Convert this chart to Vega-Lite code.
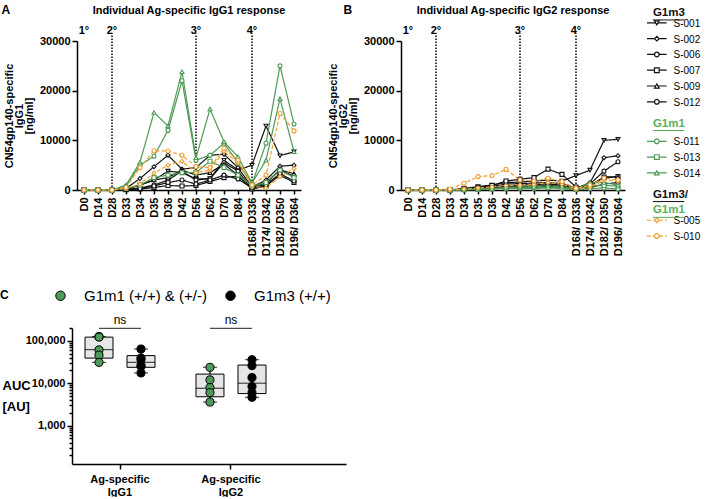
{
"$schema": "https://vega.github.io/schema/vega-lite/v6.json",
"padding": {"left": 0, "top": 4, "right": 0, "bottom": 0},
"config": {
  "font": "Liberation Sans",
  "view": {"stroke": null},
  "axis": {"domainColor": "#000", "domainWidth": 1.5, "tickColor": "#000", "tickWidth": 1.5, "labelColor": "#000", "titleColor": "#000", "labelFontWeight": "bold", "titleFontWeight": "bold", "grid": false, "labelFont": "Liberation Sans", "titleFont": "Liberation Sans"},
  "title": {"fontSize": 11, "fontWeight": "bold", "color": "#000", "font": "Liberation Sans"}
},
"datasets": {
  "series": [
{"s":"S-001","d":"D0","g1":0,"g2":0},{"s":"S-001","d":"D14","g1":0,"g2":0},{"s":"S-001","d":"D28","g1":0,"g2":0},{"s":"S-001","d":"D33","g1":200,"g2":0},{"s":"S-001","d":"D34","g1":1000,"g2":300},{"s":"S-001","d":"D35","g1":2000,"g2":700},{"s":"S-001","d":"D36","g1":3800,"g2":1000},{"s":"S-001","d":"D42","g1":3500,"g2":1500},{"s":"S-001","d":"D56","g1":2200,"g2":1600},{"s":"S-001","d":"D62","g1":2300,"g2":1800},{"s":"S-001","d":"D70","g1":6000,"g2":2000},{"s":"S-001","d":"D84","g1":4000,"g2":1800},{"s":"S-001","d":"D168/ D336","g1":5000,"g2":2900},{"s":"S-001","d":"D174/ D342","g1":12900,"g2":4000},{"s":"S-001","d":"D182/ D350","g1":6900,"g2":10000},{"s":"S-001","d":"D196/ D364","g1":7700,"g2":10200},
{"s":"S-002","d":"D0","g1":0,"g2":0},{"s":"S-002","d":"D14","g1":0,"g2":0},{"s":"S-002","d":"D28","g1":0,"g2":0},{"s":"S-002","d":"D33","g1":300,"g2":0},{"s":"S-002","d":"D34","g1":2300,"g2":200},{"s":"S-002","d":"D35","g1":4700,"g2":400},{"s":"S-002","d":"D36","g1":7000,"g2":700},{"s":"S-002","d":"D42","g1":4200,"g2":1200},{"s":"S-002","d":"D56","g1":4500,"g2":1300},{"s":"S-002","d":"D62","g1":7000,"g2":1400},{"s":"S-002","d":"D70","g1":7200,"g2":1500},{"s":"S-002","d":"D84","g1":4500,"g2":1300},{"s":"S-002","d":"D168/ D336","g1":600,"g2":300},{"s":"S-002","d":"D174/ D342","g1":2000,"g2":1500},{"s":"S-002","d":"D182/ D350","g1":4800,"g2":6500},{"s":"S-002","d":"D196/ D364","g1":5000,"g2":6900},
{"s":"S-006","d":"D0","g1":0,"g2":0},{"s":"S-006","d":"D14","g1":0,"g2":0},{"s":"S-006","d":"D28","g1":0,"g2":0},{"s":"S-006","d":"D33","g1":100,"g2":0},{"s":"S-006","d":"D34","g1":400,"g2":100},{"s":"S-006","d":"D35","g1":1000,"g2":300},{"s":"S-006","d":"D36","g1":2000,"g2":500},{"s":"S-006","d":"D42","g1":3800,"g2":800},{"s":"S-006","d":"D56","g1":2000,"g2":1000},{"s":"S-006","d":"D62","g1":2300,"g2":1100},{"s":"S-006","d":"D70","g1":5500,"g2":1200},{"s":"S-006","d":"D84","g1":3800,"g2":1000},{"s":"S-006","d":"D168/ D336","g1":300,"g2":200},{"s":"S-006","d":"D174/ D342","g1":1200,"g2":1200},{"s":"S-006","d":"D182/ D350","g1":4200,"g2":3800},{"s":"S-006","d":"D196/ D364","g1":2700,"g2":5700},
{"s":"S-007","d":"D0","g1":0,"g2":0},{"s":"S-007","d":"D14","g1":0,"g2":0},{"s":"S-007","d":"D28","g1":0,"g2":0},{"s":"S-007","d":"D33","g1":50,"g2":0},{"s":"S-007","d":"D34","g1":200,"g2":200},{"s":"S-007","d":"D35","g1":500,"g2":500},{"s":"S-007","d":"D36","g1":900,"g2":900},{"s":"S-007","d":"D42","g1":800,"g2":1800},{"s":"S-007","d":"D56","g1":900,"g2":2150},{"s":"S-007","d":"D62","g1":1700,"g2":2500},{"s":"S-007","d":"D70","g1":2500,"g2":4200},{"s":"S-007","d":"D84","g1":2800,"g2":3150},{"s":"S-007","d":"D168/ D336","g1":200,"g2":600},{"s":"S-007","d":"D174/ D342","g1":800,"g2":900},{"s":"S-007","d":"D182/ D350","g1":3000,"g2":2600},{"s":"S-007","d":"D196/ D364","g1":1500,"g2":2700},
{"s":"S-009","d":"D0","g1":0,"g2":0},{"s":"S-009","d":"D14","g1":0,"g2":0},{"s":"S-009","d":"D28","g1":0,"g2":0},{"s":"S-009","d":"D33","g1":100,"g2":0},{"s":"S-009","d":"D34","g1":1000,"g2":100},{"s":"S-009","d":"D35","g1":2000,"g2":200},{"s":"S-009","d":"D36","g1":2500,"g2":400},{"s":"S-009","d":"D42","g1":4000,"g2":600},{"s":"S-009","d":"D56","g1":3000,"g2":700},{"s":"S-009","d":"D62","g1":3500,"g2":800},{"s":"S-009","d":"D70","g1":5200,"g2":900},{"s":"S-009","d":"D84","g1":3000,"g2":800},{"s":"S-009","d":"D168/ D336","g1":500,"g2":150},{"s":"S-009","d":"D174/ D342","g1":1500,"g2":800},{"s":"S-009","d":"D182/ D350","g1":4000,"g2":2500},{"s":"S-009","d":"D196/ D364","g1":3300,"g2":2600},
{"s":"S-012","d":"D0","g1":0,"g2":0},{"s":"S-012","d":"D14","g1":0,"g2":0},{"s":"S-012","d":"D28","g1":0,"g2":0},{"s":"S-012","d":"D33","g1":100,"g2":0},{"s":"S-012","d":"D34","g1":300,"g2":50},{"s":"S-012","d":"D35","g1":800,"g2":150},{"s":"S-012","d":"D36","g1":1500,"g2":300},{"s":"S-012","d":"D42","g1":2000,"g2":400},{"s":"S-012","d":"D56","g1":1200,"g2":500},{"s":"S-012","d":"D62","g1":2000,"g2":600},{"s":"S-012","d":"D70","g1":3000,"g2":700},{"s":"S-012","d":"D84","g1":2200,"g2":600},{"s":"S-012","d":"D168/ D336","g1":400,"g2":100},{"s":"S-012","d":"D174/ D342","g1":1000,"g2":500},{"s":"S-012","d":"D182/ D350","g1":3300,"g2":1200},{"s":"S-012","d":"D196/ D364","g1":1800,"g2":1500},
{"s":"S-011","d":"D0","g1":0,"g2":0},{"s":"S-011","d":"D14","g1":0,"g2":0},{"s":"S-011","d":"D28","g1":0,"g2":0},{"s":"S-011","d":"D33","g1":800,"g2":0},{"s":"S-011","d":"D34","g1":5000,"g2":50},{"s":"S-011","d":"D35","g1":6800,"g2":100},{"s":"S-011","d":"D36","g1":12000,"g2":200},{"s":"S-011","d":"D42","g1":22000,"g2":300},{"s":"S-011","d":"D56","g1":6000,"g2":300},{"s":"S-011","d":"D62","g1":7000,"g2":300},{"s":"S-011","d":"D70","g1":9400,"g2":400},{"s":"S-011","d":"D84","g1":5500,"g2":300},{"s":"S-011","d":"D168/ D336","g1":1200,"g2":50},{"s":"S-011","d":"D174/ D342","g1":9400,"g2":300},{"s":"S-011","d":"D182/ D350","g1":25000,"g2":400},{"s":"S-011","d":"D196/ D364","g1":13300,"g2":200},
{"s":"S-013","d":"D0","g1":0,"g2":0},{"s":"S-013","d":"D14","g1":0,"g2":0},{"s":"S-013","d":"D28","g1":0,"g2":0},{"s":"S-013","d":"D33","g1":300,"g2":0},{"s":"S-013","d":"D34","g1":1000,"g2":50},{"s":"S-013","d":"D35","g1":2500,"g2":150},{"s":"S-013","d":"D36","g1":3000,"g2":250},{"s":"S-013","d":"D42","g1":3500,"g2":400},{"s":"S-013","d":"D56","g1":3500,"g2":500},{"s":"S-013","d":"D62","g1":5800,"g2":500},{"s":"S-013","d":"D70","g1":4500,"g2":500},{"s":"S-013","d":"D84","g1":3000,"g2":400},{"s":"S-013","d":"D168/ D336","g1":800,"g2":100},{"s":"S-013","d":"D174/ D342","g1":1500,"g2":800},{"s":"S-013","d":"D182/ D350","g1":4000,"g2":900},{"s":"S-013","d":"D196/ D364","g1":2500,"g2":800},
{"s":"S-014","d":"D0","g1":0,"g2":0},{"s":"S-014","d":"D14","g1":0,"g2":0},{"s":"S-014","d":"D28","g1":0,"g2":0},{"s":"S-014","d":"D33","g1":1000,"g2":0},{"s":"S-014","d":"D34","g1":5600,"g2":100},{"s":"S-014","d":"D35","g1":15600,"g2":200},{"s":"S-014","d":"D36","g1":12900,"g2":300},{"s":"S-014","d":"D42","g1":23800,"g2":500},{"s":"S-014","d":"D56","g1":6500,"g2":600},{"s":"S-014","d":"D62","g1":16300,"g2":700},{"s":"S-014","d":"D70","g1":9700,"g2":800},{"s":"S-014","d":"D84","g1":6700,"g2":700},{"s":"S-014","d":"D168/ D336","g1":1400,"g2":150},{"s":"S-014","d":"D174/ D342","g1":6000,"g2":1500},{"s":"S-014","d":"D182/ D350","g1":18400,"g2":1500},{"s":"S-014","d":"D196/ D364","g1":7700,"g2":1000},
{"s":"S-005","d":"D0","g1":0,"g2":0},{"s":"S-005","d":"D14","g1":0,"g2":0},{"s":"S-005","d":"D28","g1":0,"g2":0},{"s":"S-005","d":"D33","g1":300,"g2":0},{"s":"S-005","d":"D34","g1":1200,"g2":200},{"s":"S-005","d":"D35","g1":3400,"g2":400},{"s":"S-005","d":"D36","g1":5000,"g2":600},{"s":"S-005","d":"D42","g1":5800,"g2":900},{"s":"S-005","d":"D56","g1":3500,"g2":1000},{"s":"S-005","d":"D62","g1":4000,"g2":1100},{"s":"S-005","d":"D70","g1":7700,"g2":1500},{"s":"S-005","d":"D84","g1":5500,"g2":1200},{"s":"S-005","d":"D168/ D336","g1":800,"g2":200},{"s":"S-005","d":"D174/ D342","g1":400,"g2":600},{"s":"S-005","d":"D182/ D350","g1":2700,"g2":2000},{"s":"S-005","d":"D196/ D364","g1":4300,"g2":1800},
{"s":"S-010","d":"D0","g1":0,"g2":0},{"s":"S-010","d":"D14","g1":0,"g2":0},{"s":"S-010","d":"D28","g1":0,"g2":0},{"s":"S-010","d":"D33","g1":500,"g2":200},{"s":"S-010","d":"D34","g1":4500,"g2":1350},{"s":"S-010","d":"D35","g1":7900,"g2":2700},{"s":"S-010","d":"D36","g1":7850,"g2":2900},{"s":"S-010","d":"D42","g1":7000,"g2":4150},{"s":"S-010","d":"D56","g1":4700,"g2":2000},{"s":"S-010","d":"D62","g1":4500,"g2":1800},{"s":"S-010","d":"D70","g1":8400,"g2":2350},{"s":"S-010","d":"D84","g1":6000,"g2":1700},{"s":"S-010","d":"D168/ D336","g1":1000,"g2":330},{"s":"S-010","d":"D174/ D342","g1":3000,"g2":1000},{"s":"S-010","d":"D182/ D350","g1":15400,"g2":2400},{"s":"S-010","d":"D196/ D364","g1":11900,"g2":2000}
  ],
  "boosts": [{"d":"D0","lab":"1°"},{"d":"D28","lab":"2°"},{"d":"D56","lab":"3°"},{"d":"D168/ D336","lab":"4°"}],
  "legend": [
    {"k":"h1","lab":"G1m3","t":"head"},
    {"k":"S-001","lab":"S-001","t":"item"},{"k":"S-002","lab":"S-002","t":"item"},{"k":"S-006","lab":"S-006","t":"item"},{"k":"S-007","lab":"S-007","t":"item"},{"k":"S-009","lab":"S-009","t":"item"},{"k":"S-012","lab":"S-012","t":"item"},
    {"k":"h2","lab":"G1m1","t":"head"},
    {"k":"S-011","lab":"S-011","t":"item"},{"k":"S-013","lab":"S-013","t":"item"},{"k":"S-014","lab":"S-014","t":"item"},
    {"k":"h3","lab":"G1m3/","t":"head"},{"k":"h4","lab":"G1m1","t":"head"},
    {"k":"S-005","lab":"S-005","t":"item"},{"k":"S-010","lab":"S-010","t":"item"}
  ],
  "auc": [
    {"ab":"IgG1","g":"G1m1 (+/+) & (+/-)","v":126000},{"ab":"IgG1","g":"G1m1 (+/+) & (+/-)","v":122000},{"ab":"IgG1","g":"G1m1 (+/+) & (+/-)","v":61000},{"ab":"IgG1","g":"G1m1 (+/+) & (+/-)","v":46000},{"ab":"IgG1","g":"G1m1 (+/+) & (+/-)","v":31000},
    {"ab":"IgG1","g":"G1m3 (+/+)","v":64000},{"ab":"IgG1","g":"G1m3 (+/+)","v":39000},{"ab":"IgG1","g":"G1m3 (+/+)","v":36000},{"ab":"IgG1","g":"G1m3 (+/+)","v":26000},{"ab":"IgG1","g":"G1m3 (+/+)","v":25000},{"ab":"IgG1","g":"G1m3 (+/+)","v":17500},
    {"ab":"IgG2","g":"G1m1 (+/+) & (+/-)","v":23700},{"ab":"IgG2","g":"G1m1 (+/+) & (+/-)","v":12000},{"ab":"IgG2","g":"G1m1 (+/+) & (+/-)","v":7900},{"ab":"IgG2","g":"G1m1 (+/+) & (+/-)","v":6000},{"ab":"IgG2","g":"G1m1 (+/+) & (+/-)","v":3600},
    {"ab":"IgG2","g":"G1m3 (+/+)","v":35900},{"ab":"IgG2","g":"G1m3 (+/+)","v":26000},{"ab":"IgG2","g":"G1m3 (+/+)","v":13600},{"ab":"IgG2","g":"G1m3 (+/+)","v":8350},{"ab":"IgG2","g":"G1m3 (+/+)","v":6000},{"ab":"IgG2","g":"G1m3 (+/+)","v":4650}
  ],
  "box": [
    {"ab":"IgG1","g":"G1m1 (+/+) & (+/-)","lo":31000,"q1":39000,"med":62000,"q3":122000,"hi":126000},
    {"ab":"IgG1","g":"G1m3 (+/+)","lo":17500,"q1":23700,"med":31000,"q3":44700,"hi":64000},
    {"ab":"IgG2","g":"G1m1 (+/+) & (+/-)","lo":3600,"q1":4800,"med":7600,"q3":16400,"hi":23700},
    {"ab":"IgG2","g":"G1m3 (+/+)","lo":4650,"q1":5700,"med":10000,"q3":26800,"hi":35900}
  ],
  "sig": [{"ab":"IgG1","p":"ns"},{"ab":"IgG2","p":"ns"}]
},
"spacing": 32,
"resolve": {"legend": {"fill": "independent"}, "scale": {"fill": "independent"}},
"vconcat": [
{
  "spacing": 21,
  "hconcat": [
  {
  "spacing": 26,
  "hconcat": [
  {
    "title": {"text": "A", "anchor": "start", "frame": "bounds", "fontSize": 12, "dx": -2, "dy": 16},
    "vconcat": [{
      "width": 224, "height": 149,
      "title": {"text": "Individual Ag-specific IgG1 response", "anchor": "middle", "frame": "group", "offset": 9},
      "layer": [
        {"data": {"name": "boosts"}, "transform": [{"filter": "datum.d !== 'D0'"}],
         "mark": {"type": "rule", "strokeDash": [1.5, 1.5], "strokeWidth": 1.5, "color": "#000"},
         "encoding": {
           "x": {"field": "d", "type": "nominal", "sort": null, "scale": {"type": "point", "domain": ["D0","D14","D28","D33","D34","D35","D36","D42","D56","D62","D70","D84","D168/ D336","D174/ D342","D182/ D350","D196/ D364"], "padding": 0.5}, "axis": {"title": null, "labelAngle": -90, "labelFontSize": 11, "labelPadding": 3, "tickSize": 4}},
           "y": {"datum": 0, "type": "quantitative", "scale": {"domain": [0, 30000], "nice": false}, "axis": {"values": [0,5000,10000,15000,20000,25000,30000], "format": "d", "labelExpr": "datum.value % 10000 === 0 ? datum.label : ''", "title": ["CN54gp140-specific", "IgG1", "[ng/ml]"], "titleFontSize": 11, "titleLineHeight": 10, "titlePadding": 5, "labelFontSize": 11, "tickSize": {"condition": {"test": "datum.value % 10000 === 0", "value": 5}, "value": 3}}},
           "y2": {"datum": 31500}
         }},
        {"data": {"name": "boosts"},
         "mark": {"type": "text", "fontWeight": "bold", "fontSize": 11, "dy": -10, "color": "#000"},
         "encoding": {
           "x": {"field": "d", "type": "nominal", "sort": null},
           "y": {"datum": 30000, "type": "quantitative"},
           "text": {"field": "lab"}
         }},
        {"data": {"name": "series"},
         "mark": {"type": "line", "strokeWidth": 1.2},
         "encoding": {
           "x": {"field": "d", "type": "nominal", "sort": null},
           "y": {"field": "g1", "type": "quantitative"},
           "color": {"field": "s", "type": "nominal", "legend": null, "scale": {"domain": ["S-001","S-002","S-006","S-007","S-009","S-012","S-011","S-013","S-014","S-005","S-010","h1","h2","h3","h4"], "range": ["#111111","#111111","#111111","#111111","#111111","#111111","#4e9a55","#4e9a55","#4e9a55","#f0a035","#f0a035","#111111","#5aaf5a","#111111","#5aaf5a"]}},
           "strokeDash": {"field": "s", "type": "nominal", "legend": null, "scale": {"domain": ["S-001","S-002","S-006","S-007","S-009","S-012","S-011","S-013","S-014","S-005","S-010"], "range": [[1,0],[1,0],[1,0],[1,0],[1,0],[1,0],[1,0],[1,0],[1,0],[4,2],[4,2]]}},
           "order": {"value": null}
         }},
        {"data": {"name": "series"},
         "mark": {"type": "point", "filled": true, "fill": "white", "strokeWidth": 1.1, "size": 16, "opacity": 1},
         "encoding": {
           "x": {"field": "d", "type": "nominal", "sort": null},
           "y": {"field": "g1", "type": "quantitative"},
           "stroke": {"field": "s", "type": "nominal", "legend": null, "scale": {"domain": ["S-001","S-002","S-006","S-007","S-009","S-012","S-011","S-013","S-014","S-005","S-010","h1","h2","h3","h4"], "range": ["#111111","#111111","#111111","#111111","#111111","#111111","#4e9a55","#4e9a55","#4e9a55","#f0a035","#f0a035","#111111","#5aaf5a","#111111","#5aaf5a"]}},
           "shape": {"field": "s", "type": "nominal", "legend": null, "scale": {"domain": ["S-001","S-002","S-006","S-007","S-009","S-012","S-011","S-013","S-014","S-005","S-010"], "range": ["triangle-down","diamond","circle","square","triangle-up","circle","circle","square","triangle-up","diamond","circle"]}}
         }}
      ]
    }]
  },
  {
    "title": {"text": "B", "anchor": "start", "frame": "bounds", "fontSize": 12, "dx": 16, "dy": 16},
    "vconcat": [{
      "width": 224, "height": 149,
      "title": {"text": "Individual Ag-specific IgG2 response", "anchor": "middle", "frame": "group", "offset": 9},
      "layer": [
        {"data": {"name": "boosts"}, "transform": [{"filter": "datum.d !== 'D0'"}],
         "mark": {"type": "rule", "strokeDash": [1.5, 1.5], "strokeWidth": 1.5, "color": "#000"},
         "encoding": {
           "x": {"field": "d", "type": "nominal", "sort": null, "scale": {"type": "point", "domain": ["D0","D14","D28","D33","D34","D35","D36","D42","D56","D62","D70","D84","D168/ D336","D174/ D342","D182/ D350","D196/ D364"], "padding": 0.5}, "axis": {"title": null, "labelAngle": -90, "labelFontSize": 11, "labelPadding": 3, "tickSize": 4}},
           "y": {"datum": 0, "type": "quantitative", "scale": {"domain": [0, 30000], "nice": false}, "axis": {"values": [0,5000,10000,15000,20000,25000,30000], "format": "d", "labelExpr": "datum.value % 10000 === 0 ? datum.label : ''", "title": ["CN54gp140-specific", "IgG2", "[ng/ml]"], "titleFontSize": 11, "titleLineHeight": 10, "titlePadding": 5, "labelFontSize": 11, "tickSize": {"condition": {"test": "datum.value % 10000 === 0", "value": 5}, "value": 3}}},
           "y2": {"datum": 31500}
         }},
        {"data": {"name": "boosts"},
         "mark": {"type": "text", "fontWeight": "bold", "fontSize": 11, "dy": -10, "color": "#000"},
         "encoding": {
           "x": {"field": "d", "type": "nominal", "sort": null},
           "y": {"datum": 30000, "type": "quantitative"},
           "text": {"field": "lab"}
         }},
        {"data": {"name": "series"},
         "mark": {"type": "line", "strokeWidth": 1.2},
         "encoding": {
           "x": {"field": "d", "type": "nominal", "sort": null},
           "y": {"field": "g2", "type": "quantitative"},
           "color": {"field": "s", "type": "nominal", "legend": null, "scale": {"domain": ["S-001","S-002","S-006","S-007","S-009","S-012","S-011","S-013","S-014","S-005","S-010","h1","h2","h3","h4"], "range": ["#111111","#111111","#111111","#111111","#111111","#111111","#4e9a55","#4e9a55","#4e9a55","#f0a035","#f0a035","#111111","#5aaf5a","#111111","#5aaf5a"]}},
           "strokeDash": {"field": "s", "type": "nominal", "legend": null, "scale": {"domain": ["S-001","S-002","S-006","S-007","S-009","S-012","S-011","S-013","S-014","S-005","S-010"], "range": [[1,0],[1,0],[1,0],[1,0],[1,0],[1,0],[1,0],[1,0],[1,0],[4,2],[4,2]]}},
           "order": {"value": null}
         }},
        {"data": {"name": "series"},
         "mark": {"type": "point", "filled": true, "fill": "white", "strokeWidth": 1.1, "size": 16, "opacity": 1},
         "encoding": {
           "x": {"field": "d", "type": "nominal", "sort": null},
           "y": {"field": "g2", "type": "quantitative"},
           "stroke": {"field": "s", "type": "nominal", "legend": null, "scale": {"domain": ["S-001","S-002","S-006","S-007","S-009","S-012","S-011","S-013","S-014","S-005","S-010","h1","h2","h3","h4"], "range": ["#111111","#111111","#111111","#111111","#111111","#111111","#4e9a55","#4e9a55","#4e9a55","#f0a035","#f0a035","#111111","#5aaf5a","#111111","#5aaf5a"]}},
           "shape": {"field": "s", "type": "nominal", "legend": null, "scale": {"domain": ["S-001","S-002","S-006","S-007","S-009","S-012","S-011","S-013","S-014","S-005","S-010"], "range": ["triangle-down","diamond","circle","square","triangle-up","circle","circle","square","triangle-up","diamond","circle"]}}
         }}
      ]
    }]
  }
  ]
  },
  {
    "width": 54, "height": 149,
    "data": {"name": "legend"},
    "layer": [
      {"transform": [{"filter": "datum.t === 'item'"}],
       "mark": {"type": "rule", "strokeWidth": 1.2},
       "encoding": {
         "y": {"field": "k", "type": "nominal", "sort": null, "scale": {"type": "point", "domain": ["h1","S-001","_a","S-002","_b","S-006","_c","S-007","_d","S-009","_e","S-012","_f","_g","h2","_h","S-011","_i","S-013","_j","S-014","_k","_l","h3","_m","h4","S-005","_n","S-010"], "padding": 0.5, "range": [-30, 199]}, "axis": null},
         "x": {"datum": 0, "type": "quantitative", "scale": {"domain": [0, 5.4]}, "axis": null},
         "x2": {"datum": 2},
         "color": {"field": "k", "type": "nominal", "legend": null, "scale": {"domain": ["S-001","S-002","S-006","S-007","S-009","S-012","S-011","S-013","S-014","S-005","S-010","h1","h2","h3","h4"], "range": ["#111111","#111111","#111111","#111111","#111111","#111111","#4e9a55","#4e9a55","#4e9a55","#f0a035","#f0a035","#111111","#5aaf5a","#111111","#5aaf5a"]}},
         "strokeDash": {"field": "k", "type": "nominal", "legend": null, "scale": {"domain": ["S-001","S-002","S-006","S-007","S-009","S-012","S-011","S-013","S-014","S-005","S-010"], "range": [[1,0],[1,0],[1,0],[1,0],[1,0],[1,0],[1,0],[1,0],[1,0],[4,2],[4,2]]}}
       }},
      {"transform": [{"filter": "datum.t === 'item'"}],
       "mark": {"type": "point", "filled": true, "fill": "white", "strokeWidth": 1.2, "size": 22, "opacity": 1},
       "encoding": {
         "y": {"field": "k", "type": "nominal", "sort": null},
         "x": {"datum": 1, "type": "quantitative"},
         "stroke": {"field": "k", "type": "nominal", "legend": null, "scale": {"domain": ["S-001","S-002","S-006","S-007","S-009","S-012","S-011","S-013","S-014","S-005","S-010","h1","h2","h3","h4"], "range": ["#111111","#111111","#111111","#111111","#111111","#111111","#4e9a55","#4e9a55","#4e9a55","#f0a035","#f0a035","#111111","#5aaf5a","#111111","#5aaf5a"]}},
         "shape": {"field": "k", "type": "nominal", "legend": null, "scale": {"domain": ["S-001","S-002","S-006","S-007","S-009","S-012","S-011","S-013","S-014","S-005","S-010"], "range": ["triangle-down","diamond","circle","square","triangle-up","circle","circle","square","triangle-up","diamond","circle"]}}
       }},
      {"transform": [{"filter": "datum.t === 'item'"}],
       "mark": {"type": "text", "align": "left", "baseline": "middle", "fontSize": 10, "color": "#000", "yOffset": 1},
       "encoding": {
         "y": {"field": "k", "type": "nominal", "sort": null},
         "x": {"datum": 2.7, "type": "quantitative"},
         "text": {"field": "lab"}
       }},
      {"transform": [{"filter": "datum.t === 'head'"}],
       "mark": {"type": "text", "align": "left", "baseline": "middle", "fontSize": 11.5, "fontWeight": "bold", "yOffset": -2},
       "encoding": {
         "y": {"field": "k", "type": "nominal", "sort": null},
         "x": {"datum": 0.6, "type": "quantitative"},
         "text": {"field": "lab"},
         "color": {"field": "k", "type": "nominal", "legend": null}
       }},
      {"transform": [{"filter": "datum.t === 'head'"}],
       "mark": {"type": "rule", "strokeWidth": 1, "yOffset": 5},
       "encoding": {
         "y": {"field": "k", "type": "nominal", "sort": null},
         "x": {"datum": 0.6, "type": "quantitative"},
         "x2": {"datum": 3.8},
         "color": {"field": "k", "type": "nominal", "legend": null}
       }}
    ]
  }
  ]
},
{
  "width": 274, "height": 136,
  "title": {"text": "C", "anchor": "start", "frame": "bounds", "fontSize": 12, "dx": -2, "dy": 18},
  "layer": [
    {"data": {"name": "box"},
     "mark": {"type": "rule", "color": "#000", "strokeWidth": 1.2},
     "encoding": {
       "x": {"field": "ab", "type": "nominal", "sort": null, "scale": {"type": "band", "domain": ["IgG1", "IgG2"], "paddingInner": 0.243, "paddingOuter": 0.356, "align": 0.076, "range": [-5, 269]}, "axis": {"title": null, "labelAngle": 0, "labelExpr": "['Ag-specific', datum.label]", "labelFontSize": 11, "labelLineHeight": 13, "tickSize": 5, "labelPadding": 4}},
       "xOffset": {"field": "g", "type": "nominal", "sort": null, "scale": {"domain": ["G1m1 (+/+) & (+/-)", "G1m3 (+/+)"], "paddingInner": 0, "paddingOuter": 0}},
       "y": {"field": "lo", "type": "quantitative", "scale": {"type": "log", "domain": [125, 200000], "nice": false}, "axis": {"offset": 5, "values": [200,300,400,500,600,700,800,900,1000,2000,3000,4000,5000,6000,7000,8000,9000,10000,20000,30000,40000,50000,60000,70000,80000,90000,100000,200000], "labelExpr": "indexof([1000,10000,100000], datum.value) >= 0 ? format(datum.value, ',') : ''", "title": ["AUC", "[AU]"], "titleAngle": 0, "titleAlign": "left", "titleBaseline": "middle", "titleX": -70, "titleY": 57, "titleFontSize": 13, "titleLineHeight": 21, "labelFontSize": 11, "tickSize": {"condition": {"test": "indexof([1000,10000,100000], datum.value) >= 0", "value": 5}, "value": 3}}},
       "y2": {"field": "hi"}
     }},
    {"data": {"name": "box"},
     "mark": {"type": "tick", "orient": "horizontal", "color": "#000", "size": 14, "thickness": 1.2},
     "encoding": {
       "x": {"field": "ab", "type": "nominal", "sort": null},
       "xOffset": {"field": "g", "type": "nominal", "sort": null},
       "y": {"field": "lo", "type": "quantitative"}
     }},
    {"data": {"name": "box"},
     "mark": {"type": "tick", "orient": "horizontal", "color": "#000", "size": 14, "thickness": 1.2},
     "encoding": {
       "x": {"field": "ab", "type": "nominal", "sort": null},
       "xOffset": {"field": "g", "type": "nominal", "sort": null},
       "y": {"field": "hi", "type": "quantitative"}
     }},
    {"data": {"name": "box"},
     "mark": {"type": "bar", "width": 28, "fill": "#e6e6e6", "stroke": "#000", "strokeWidth": 1},
     "encoding": {
       "x": {"field": "ab", "type": "nominal", "sort": null},
       "xOffset": {"field": "g", "type": "nominal", "sort": null},
       "y": {"field": "q1", "type": "quantitative"},
       "y2": {"field": "q3"}
     }},
    {"data": {"name": "box"},
     "mark": {"type": "tick", "orient": "horizontal", "color": "#000", "size": 28, "thickness": 1.2},
     "encoding": {
       "x": {"field": "ab", "type": "nominal", "sort": null},
       "xOffset": {"field": "g", "type": "nominal", "sort": null},
       "y": {"field": "med", "type": "quantitative"}
     }},
    {"data": {"name": "auc"},
     "mark": {"type": "point", "shape": "circle", "filled": true, "size": 65, "stroke": "#000", "strokeWidth": 1, "opacity": 1},
     "encoding": {
       "x": {"field": "ab", "type": "nominal", "sort": null},
       "xOffset": {"field": "g", "type": "nominal", "sort": null},
       "y": {"field": "v", "type": "quantitative"},
       "fill": {"field": "g", "type": "nominal", "sort": null, "scale": {"domain": ["G1m1 (+/+) & (+/-)", "G1m3 (+/+)"], "range": ["#4f9a5a", "#000000"]},
         "legend": {"orient": "none", "legendX": -24, "legendY": -40, "direction": "horizontal", "title": null, "labelFontSize": 15, "labelFont": "Liberation Sans", "labelColor": "#000", "symbolSize": 90, "symbolStrokeColor": "#000", "symbolStrokeWidth": 1, "symbolType": "circle", "columnPadding": 16, "labelOffset": 16}}
     }},
    {"data": {"name": "sig"},
     "mark": {"type": "tick", "orient": "horizontal", "color": "#000", "size": 42, "thickness": 1.2},
     "encoding": {
       "x": {"field": "ab", "type": "nominal", "sort": null},
       "y": {"datum": 195000, "type": "quantitative"}
     }},
    {"data": {"name": "sig"},
     "mark": {"type": "text", "fontSize": 12, "dy": -8, "color": "#000"},
     "encoding": {
       "x": {"field": "ab", "type": "nominal", "sort": null},
       "y": {"datum": 195000, "type": "quantitative"},
       "text": {"field": "p"}
     }}
  ]
}
]
}
